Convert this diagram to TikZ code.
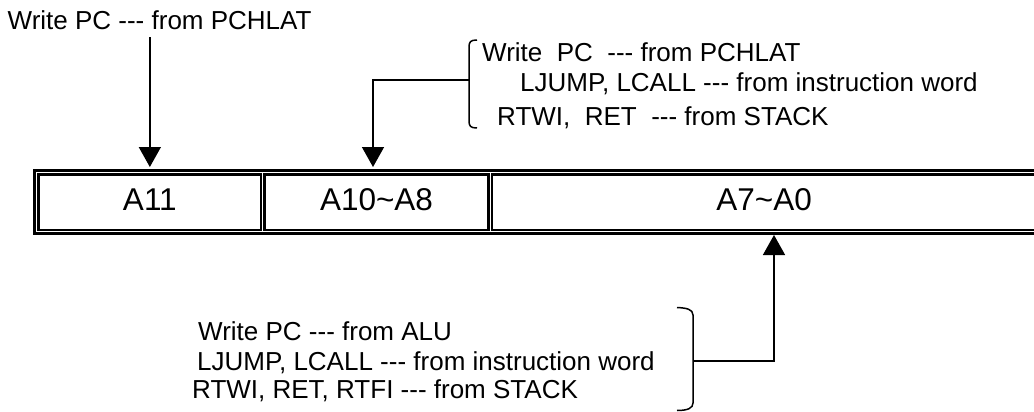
\documentclass[tikz,border=0pt]{standalone}
\usepackage{fontspec}
\setmainfont{Liberation Sans}
\usetikzlibrary{arrows.meta}
\newcommand{\tripdash}{-{}-{}-}
\begin{document}
\begin{tikzpicture}[x=1pt,y=-1pt,
  cell/.style={draw, line width=2.4pt, minimum height=55.3pt, inner sep=0pt, outer sep=0pt, text height=22pt, text depth=6pt, font=\fontsize{31.5}{36}\selectfont},
  lab/.style={anchor=base west, inner sep=0pt, font=\fontsize{26}{30}\selectfont},
  arr/.style={line width=1.5pt, -{Triangle[width=22pt,length=20pt]}},
  conn/.style={line width=1.5pt},
  frame/.style={line width=3pt}]
\useasboundingbox (0,0) rectangle (1034,412);
% register cells
\node[cell, minimum width=222.7pt] (c1) at (149.85,202.15) {A11};
\node[cell, minimum width=224pt] (c2) at (376.5,202.15) {A10\textasciitilde A8};
\node[cell, minimum width=543.8pt] (c3) at (764.1,202.15) {A7\textasciitilde A0\hspace{8pt}};
\draw[frame] ([shift={(-4,-4)}]c1.north west) rectangle ([shift={(4,3.9)}]c3.south east);
% labels
\node[lab] (t1) at (7.5,30) {Write PC \tripdash{} from PCHLAT};
\node[lab] (r1) at (482,62) {Write\ \ PC\ \ \tripdash{} from PCHLAT};
\node[lab] (r2) at (520,92) {LJUMP, LCALL \tripdash{} from instruction word};
\node[lab] (r3) at (497,125) {RTWI,\ \ RET\ \ \tripdash{} from STACK};
\node[lab] (b1) at (198,340) {Write PC \tripdash{} from ALU};
\node[lab] (b2) at (197,370) {LJUMP, LCALL \tripdash{} from instruction word};
\node[lab] (b3) at (192,398) {RTWI, RET, RTFI \tripdash{} from STACK};
% arrow 1
\coordinate (a1s) at (c1.north |- t1.south);
\draw[arr] ([yshift=-7pt]a1s) -- ([yshift=7.5pt]c1.north);
% top-right bracket and arrow
\draw[conn] (477,40) .. controls (470.5,40) and (469,42) .. (469,47) -- (469,121) .. controls (469,126) and (470.5,128) .. (477,128);
\coordinate (br1) at (469,80);
\draw[arr] (br1) -| ([xshift=-3.5pt,yshift=7.5pt]c2.north);
% bottom bracket and arrow
\draw[conn] (677,307.5) .. controls (686,308) and (693,309) .. (693,315) -- (693,403) .. controls (693,408) and (688,410.5) .. (677,410.5);
\coordinate (br2) at (693,361);
\draw[arr] (br2) -| ([xshift=9.9pt,yshift=-5.2pt]c3.south);
\end{tikzpicture}
\end{document}
